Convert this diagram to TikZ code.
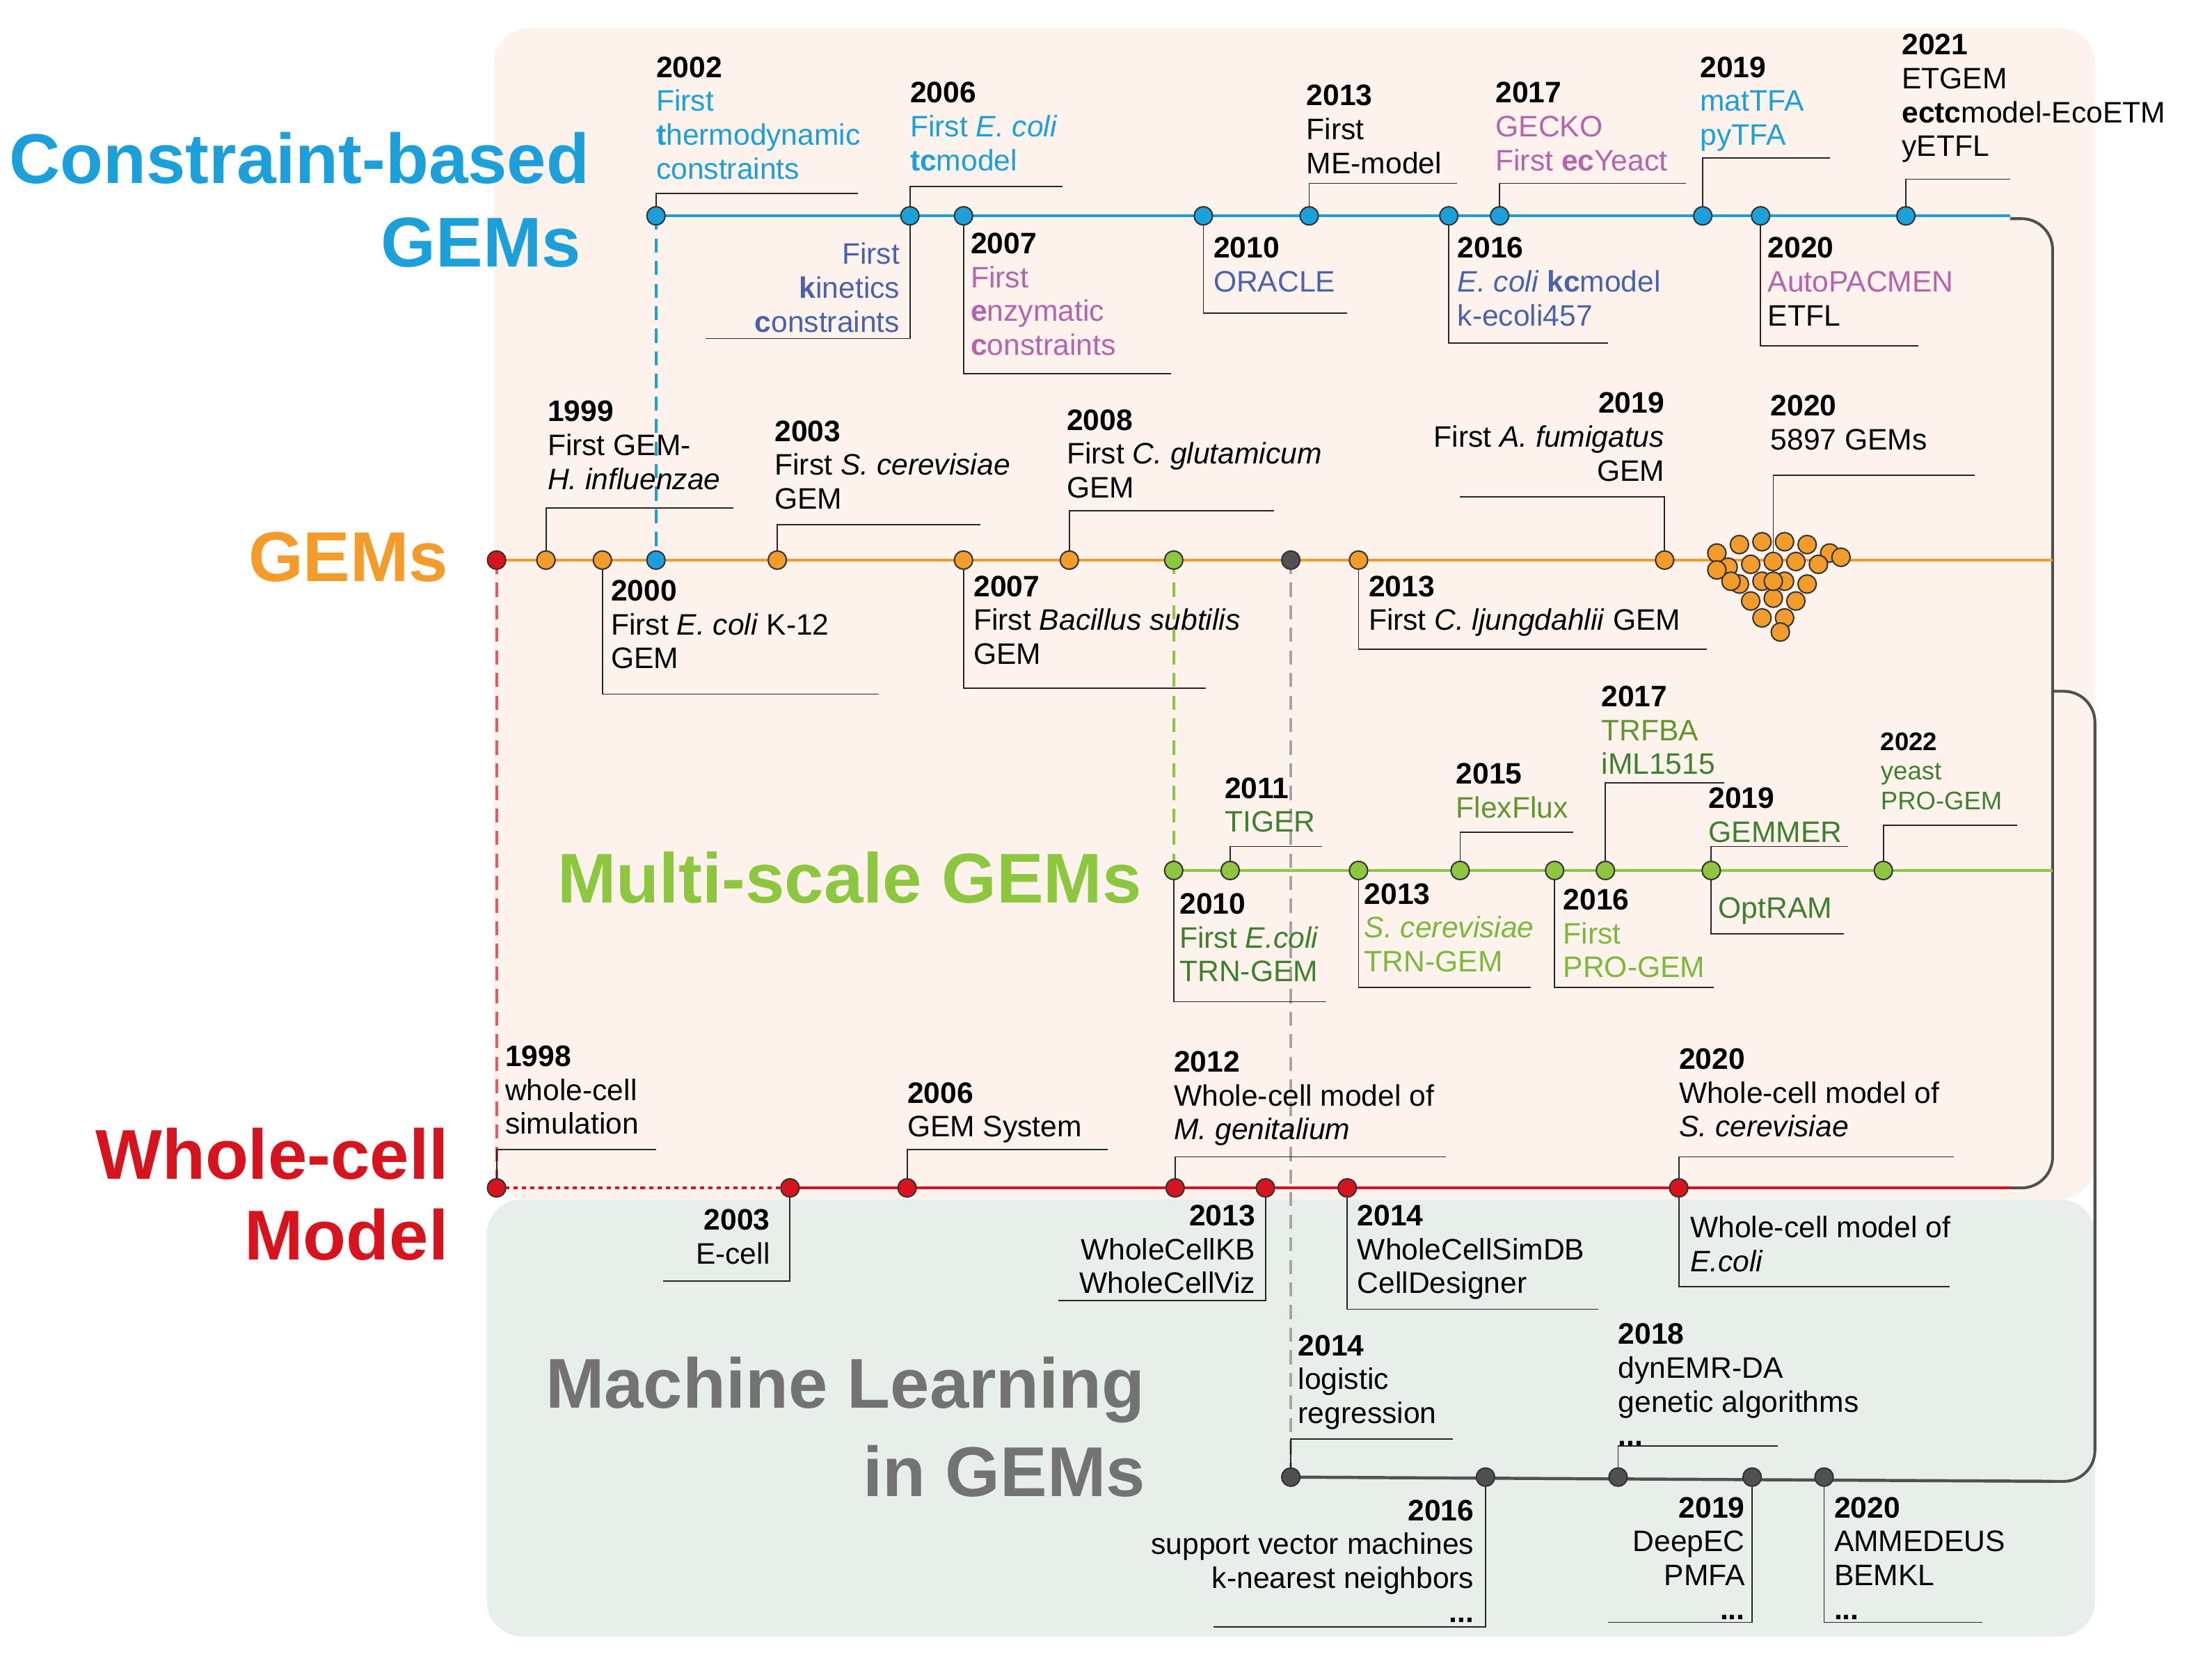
\documentclass[tikz,border=0pt]{standalone}
\usepackage{fontspec}
\setmainfont{Liberation Sans}
\definecolor{cb}{HTML}{1BA0DC}
\definecolor{co}{HTML}{F39C2B}
\definecolor{cg}{HTML}{8DC63F}
\definecolor{cr}{HTML}{D7141E}
\definecolor{cd}{HTML}{505050}
\definecolor{tpur}{HTML}{B664AC}
\definecolor{tkb}{HTML}{4A62AE}
\definecolor{tdg}{HTML}{3F7F2F}
\definecolor{tlg}{HTML}{7CB93A}
\definecolor{bg1}{HTML}{FDF3EC}
\definecolor{bg2}{HTML}{E8EFEA}
\newcommand\lead[4]{\draw[ld] (#1,#2) -- (#1,#3) -- (#4,#3);}
\begin{document}
\begin{tikzpicture}[x=1pt,y=-1pt,
 dot/.style={circle,draw=black!80,line width=1pt,minimum size=13pt,inner sep=0pt},
 lab/.style={inner sep=0pt,font=\fontsize{21}{24}\selectfont,align=left,anchor=north west},
 labr/.style={lab,align=right,anchor=north east},
 ld/.style={line width=0.9pt,black!85},
 tline/.style={line width=2.2pt},
 ttl/.style={inner sep=0pt,font=\fontsize{50}{58}\selectfont\bfseries,anchor=east}]
\useasboundingbox (0,0) rectangle (1568,1177);
\fill[bg1,rounded corners=25pt] (350,20) rectangle (1485,850);
\fill[bg2,rounded corners=25pt] (345,850) rectangle (1485,1160);
% titles
\node[ttl,text=cb] (t1) at (418,112) {Constraint-based};
\node[ttl,text=cb] (t1b) at (412,172) {GEMs};
\node[ttl,text=co] (t2) at (318,395) {GEMs};
\node[ttl,text=cg,anchor=west] (t3) at (395,622) {Multi-scale GEMs};
\node[ttl,text=cr] (t4) at (318,818) {Whole-cell};
\node[ttl,text=cr] (t4b) at (318,875) {Model};
\node[ttl,text=black!55] (t5) at (812,985) {Machine Learning};
\node[ttl,text=black!55] (t5b) at (812,1043) {in GEMs};
% dashed verticals
\draw[cb,line width=2pt,dashed,dash pattern=on 10pt off 6pt] (465,153) -- (465,397);
\draw[cr!70,line width=2pt,dash pattern=on 10pt off 6pt] (352,397) -- (352,842);
\draw[cg,line width=2pt,dash pattern=on 10pt off 6pt] (832,397) -- (832,617);
\draw[black!35,line width=2pt,dash pattern=on 10pt off 6pt] (915,397) -- (915,1047);
% gray connectors
\draw[cd,line width=2pt,rounded corners=22pt] (1425,155) -- (1455,155) -- (1455,842) -- (1425,842);
\draw[cd,line width=2pt,rounded corners=22pt] (1455,490) -- (1485,490) -- (1485,1050) -- (1455,1050);
% leaders blue
\lead{465}{153}{137}{608}
\lead{645}{153}{132}{753}
\lead{928}{153}{130}{1033}
\lead{1063}{153}{130}{1195}
\lead{1207}{153}{112}{1297}
\lead{1351}{153}{127}{1425}
\lead{645}{153}{240}{500}
\lead{683}{153}{265}{830}
\lead{853}{153}{222}{955}
\lead{1027}{153}{243}{1140}
\lead{1248}{153}{245}{1360}
% leaders orange
\lead{387}{397}{360}{520}
\lead{551}{397}{372}{695}
\lead{758}{397}{362}{903}
\lead{1180}{397}{352}{1035}
\lead{1257}{397}{337}{1400}
\lead{427}{397}{492}{623}
\lead{683}{397}{488}{855}
\lead{963}{397}{460}{1210}
% leaders green
\lead{872}{617}{600}{937}
\lead{1035}{617}{590}{1115}
\lead{1138}{617}{555}{1222}
\lead{1213}{617}{600}{1310}
\lead{1335}{617}{585}{1430}
\lead{832}{617}{710}{940}
\lead{963}{617}{700}{1085}
\lead{1102}{617}{700}{1215}
\lead{1213}{617}{662}{1307}
% leaders red
\lead{352}{842}{815}{465}
\lead{643}{842}{815}{785}
\lead{833}{842}{820}{1025}
\lead{1190}{842}{820}{1385}
\lead{560}{842}{908}{470}
\lead{897}{842}{922}{750}
\lead{955}{842}{928}{1133}
\lead{1190}{842}{912}{1382}
% leaders ML
\lead{915}{1047}{1020}{1030}
\lead{1147}{1047}{1025}{1260}
\lead{1053}{1047}{1153}{860}
\lead{1242}{1047}{1150}{1140}
\lead{1293}{1047}{1150}{1405}
% timelines
\draw[cb,tline] (465,153) -- (1425,153);
\draw[co,tline] (352,397) -- (1455,397);
\draw[cg,tline] (830,617) -- (1455,617);
\draw[cr,tline,dash pattern=on 3pt off 3pt] (352,842) -- (560,842);
\draw[cr,tline] (560,842) -- (1425,842);
\draw[cd,tline] (915,1047) -- (1455,1050);
% dots
\foreach \x in {465,645,683,853,928,1027,1063,1207,1248,1351} \node[dot,fill=cb] at (\x,153) {};
\foreach \x in {387,427,551,683,758,963,1180} \node[dot,fill=co] at (\x,397) {};
\node[dot,fill=cr] at (352,397) {};
\node[dot,fill=cb] at (465,397) {};
\node[dot,fill=cg] at (832,397) {};
\node[dot,fill=cd] at (915,397) {};
\foreach \x/\y in {1217/392,1233/386,1249/384,1265/384,1281/386,1297/392,
 1225/402,1241/400,1257/398,1273/398,1289/400,1305/395,
 1233/414,1249/412,1265/412,1281/414,1227/412,
 1241/426,1257/424,1273/426,1249/438,1265/438,1262/448,1257/412,1217/404}
 \node[dot,fill=co] at (\x,\y) {};
\foreach \x in {832,872,963,1035,1102,1138,1213,1335} \node[dot,fill=cg] at (\x,617) {};
\foreach \x in {352,560,643,833,897,955,1190} \node[dot,fill=cr] at (\x,842) {};
\foreach \x in {915,1053,1147,1242,1293} \node[dot,fill=cd] at (\x,1047) {};
% labels blue
\node[lab] at (465,40) {\textbf{2002}\\\color{cb}First\\\color{cb}\textbf{t}hermodynamic\\\color{cb}constraints};
\node[lab] at (645,58) {\textbf{2006}\\\color{cb}First \textit{E. coli}\\\color{cb}\textbf{tc}model};
\node[lab] at (926,60) {\textbf{2013}\\First\\ME-model};
\node[lab] at (1060,58) {\textbf{2017}\\\color{tpur}GECKO\\\color{tpur}First \textbf{ec}Yeact};
\node[lab] at (1205,40) {\textbf{2019}\\\color{cb}matTFA\\\color{cb}pyTFA};
\node[lab] at (1348,24) {\textbf{2021}\\ETGEM\\\textbf{ectc}model-EcoETM\\yETFL};
\node[labr] at (638,172) {\color{tkb}First\\\color{tkb}\textbf{k}inetics\\\color{tkb}\textbf{c}onstraints};
\node[lab] at (688,165) {\textbf{2007}\\\color{tpur}First\\\color{tpur}\textbf{e}nzymatic\\\color{tpur}\textbf{c}onstraints};
\node[lab] at (860,168) {\textbf{2010}\\\color{tkb}ORACLE};
\node[lab] at (1033,168) {\textbf{2016}\\\color{tkb}\textit{E. coli} \textbf{kc}model\\\color{tkb}k-ecoli457};
\node[lab] at (1253,168) {\textbf{2020}\\\color{tpur}AutoPACMEN\\ETFL};
% labels orange
\node[lab] at (388,284) {\textbf{1999}\\First GEM-\\\textit{H. influenzae}};
\node[lab] at (549,298) {\textbf{2003}\\First \textit{S. cerevisiae}\\GEM};
\node[lab] at (756,290) {\textbf{2008}\\First \textit{C. glutamicum}\\GEM};
\node[labr] at (1180,278) {\textbf{2019}\\First \textit{A. fumigatus}\\GEM};
\node[lab] at (1255,280) {\textbf{2020}\\5897 GEMs};
\node[lab] at (433,411) {\textbf{2000}\\First \textit{E. coli} K-12\\GEM};
\node[lab] at (690,408) {\textbf{2007}\\First \textit{Bacillus subtilis}\\GEM};
\node[lab] at (970,408) {\textbf{2013}\\First \textit{C. ljungdahlii} GEM};
% labels green
\node[lab] at (868,551) {\textbf{2011}\\\color{tdg}TIGER};
\node[lab] at (1032,541) {\textbf{2015}\\\color{tlg!80!black}FlexFlux};
\node[lab] at (1135,486) {\textbf{2017}\\\color{tlg!80!black}TRFBA\\\color{tdg}iML1515};
\node[lab] at (1211,558) {\textbf{2019}\\\color{tdg}GEMMER};
\node[lab,font=\fontsize{18}{21}\selectfont] at (1333,519) {\textbf{2022}\\\color{tdg}yeast\\\color{tdg}PRO-GEM};
\node[lab] at (836,633) {\textbf{2010}\\\color{tdg}First \textit{E.coli}\\\color{tdg}TRN-GEM};
\node[lab] at (967,626) {\textbf{2013}\\\color{tlg}\textit{S. cerevisiae}\\\color{tlg}TRN-GEM};
\node[lab] at (1108,630) {\textbf{2016}\\\color{tlg}First\\\color{tlg}PRO-GEM};
\node[lab] at (1218,636) {\color{tdg}OptRAM};
% labels red
\node[lab] at (358,741) {\textbf{1998}\\whole-cell\\simulation};
\node[lab] at (643,767) {\textbf{2006}\\GEM System};
\node[lab] at (832,745) {\textbf{2012}\\Whole-cell model of\\\textit{M. genitalium}};
\node[lab] at (1190,743) {\textbf{2020}\\Whole-cell model of\\\textit{S. cerevisiae}};
\node[labr] at (546,857) {\textbf{2003}\\E-cell};
\node[labr] at (890,854) {\textbf{2013}\\WholeCellKB\\WholeCellViz};
\node[lab] at (962,854) {\textbf{2014}\\WholeCellSimDB\\CellDesigner};
\node[lab] at (1198,862) {Whole-cell model of\\\textit{E.coli}};
% labels ML
\node[lab] at (920,946) {\textbf{2014}\\logistic\\regression};
\node[lab] at (1147,938) {\textbf{2018}\\dynEMR-DA\\genetic algorithms\\\textbf{...}};
\node[labr] at (1045,1063) {\textbf{2016}\\support vector machines\\k-nearest neighbors\\\textbf{...}};
\node[labr] at (1237,1061) {\textbf{2019}\\DeepEC\\PMFA\\\textbf{...}};
\node[lab] at (1300,1061) {\textbf{2020}\\AMMEDEUS\\BEMKL\\\textbf{...}};
\end{tikzpicture}
\end{document}
